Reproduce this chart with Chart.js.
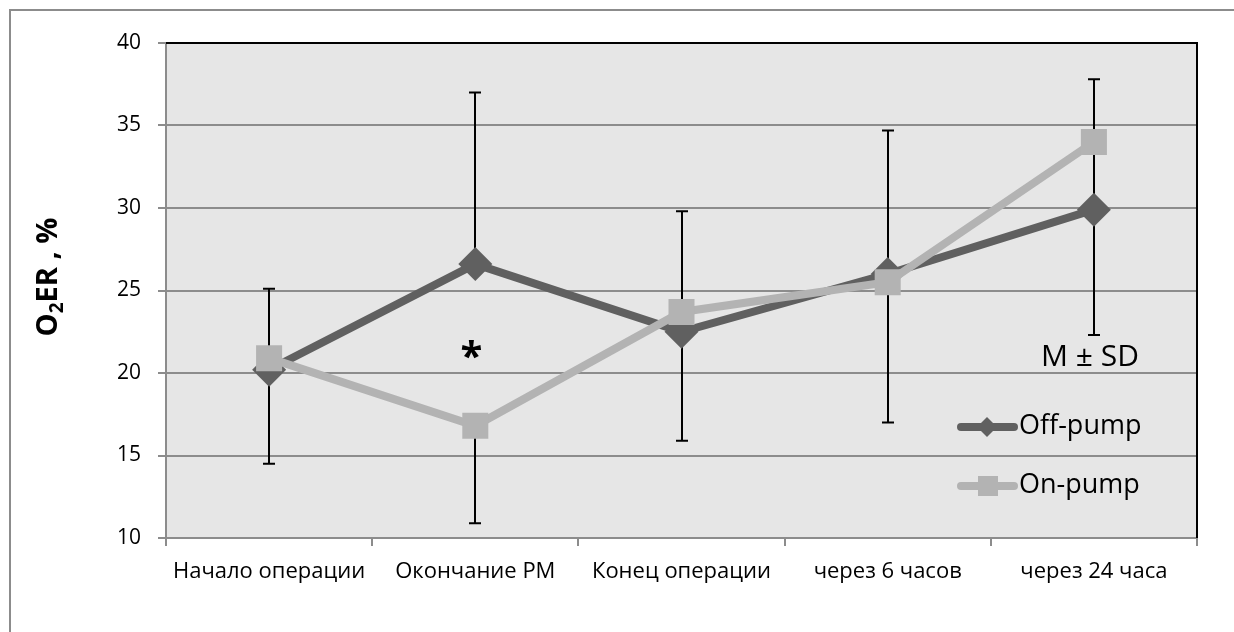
<!DOCTYPE html>
<html>
<head>
<meta charset="utf-8">
<script src="https://cdn.jsdelivr.net/npm/chart.js@4/dist/chart.umd.min.js"></script>
<style>
  html, body { margin: 0; padding: 0; background: #fff; }
  #wrap { width: 1234px; height: 632px; }
</style>
</head>
<body>
<div id="wrap"><canvas id="o2er" width="1234" height="632"></canvas></div>
<script>
// data
var categories = ['Начало операции', 'Окончание РМ', 'Конец операции', 'через 6 часов', 'через 24 часа'];
var offPump = [20.2, 26.6, 22.5, 26.0, 29.9];
var onPump = [20.9, 16.8, 23.7, 25.5, 34.0];
// off-pump has plus bars, on-pump minus bars
var errHigh = [25.1, 37.0, 29.8, 34.7, 37.8];
var errLow = [14.5, 10.9, 15.9, 17.0, 22.3];
var yTicks = [10, 15, 20, 25, 30, 35, 40];

var FONT = '"Open Sans", "DejaVu Sans", sans-serif';
var darkGrey = '#606060';
var lightGrey = '#b3b3b3';

var extras = {
  id: 'extras',
  beforeDraw: function(chart) {
    var ctx = chart.ctx;
    var a = chart.chartArea;
    ctx.save();
    // outer frame
    ctx.strokeStyle = '#8c8c8c';
    ctx.lineWidth = 2;
    ctx.strokeRect(10, 10, 1400, 800);
    // plot background
    ctx.fillStyle = '#e6e6e6';
    ctx.fillRect(a.left, a.top, a.right - a.left, a.bottom - a.top);
    ctx.restore();
  },
  beforeDatasetsDraw: function(chart) {
    var ctx = chart.ctx;
    var xs = chart.scales.x, ys = chart.scales.y;
    ctx.save();
    ctx.strokeStyle = '#000';
    ctx.lineWidth = 2;
    for (var i = 0; i < categories.length; i++) {
      var x = Math.round(xs.getPixelForValue(i));
      var y1 = ys.getPixelForValue(errHigh[i]);
      var y2 = ys.getPixelForValue(errLow[i]);
      var yOff = ys.getPixelForValue(offPump[i]);
      var yOn = ys.getPixelForValue(onPump[i]);
      ctx.beginPath();
      ctx.moveTo(x, yOff); ctx.lineTo(x, y1);
      ctx.moveTo(x, yOn); ctx.lineTo(x, y2);
      ctx.moveTo(x - 6, y1); ctx.lineTo(x + 6, y1);
      ctx.moveTo(x - 6, y2); ctx.lineTo(x + 6, y2);
      ctx.stroke();
    }
    ctx.restore();
  },
  afterDraw: function(chart) {
    var ctx = chart.ctx;
    var a = chart.chartArea;
    var xs = chart.scales.x, ys = chart.scales.y;
    ctx.save();

    // top and right edge of the plot
    ctx.strokeStyle = '#000';
    ctx.lineWidth = 2;
    ctx.beginPath();
    ctx.moveTo(a.left, a.top); ctx.lineTo(a.right, a.top); ctx.lineTo(a.right, a.bottom);
    ctx.stroke();

    // legend inside plot
    var items = [
      {label: 'Off-pump', color: darkGrey, y: 427, shape: 'diamond'},
      {label: 'On-pump', color: lightGrey, y: 486, shape: 'square'}
    ];
    items.forEach(function(it) {
      ctx.strokeStyle = it.color;
      ctx.fillStyle = it.color;
      ctx.lineWidth = 8;
      ctx.lineCap = 'round';
      ctx.beginPath();
      ctx.moveTo(961, it.y); ctx.lineTo(1014, it.y);
      ctx.stroke();
      ctx.beginPath();
      if (it.shape === 'diamond') {
        ctx.moveTo(987, it.y - 10); ctx.lineTo(997, it.y); ctx.lineTo(987, it.y + 10); ctx.lineTo(977, it.y);
        ctx.closePath();
      } else {
        ctx.rect(978, it.y - 10, 20, 20);
      }
      ctx.fill();
      ctx.fillStyle = '#000';
      ctx.font = '27px ' + FONT;
      ctx.textAlign = 'left';
      ctx.textBaseline = 'middle';
      ctx.fillText(it.label, 1019, it.y - 1);
    });

    // M ± SD
    ctx.fillStyle = '#000';
    ctx.font = '30px ' + FONT;
    ctx.textAlign = 'center';
    ctx.textBaseline = 'alphabetic';
    ctx.fillText('M ± SD', 1090, 366);

    // significance mark
    ctx.font = 'bold 40px ' + FONT;
    ctx.textAlign = 'center';
    ctx.fillText('*', xs.getPixelForValue(1) - 4, ys.getPixelForValue(20.2));

    // y axis title with subscript
    ctx.translate(47, 277);
    ctx.rotate(-Math.PI / 2);
    var big = 'bold 29px ' + FONT, small = 'bold 19px ' + FONT;
    ctx.font = big; var w1 = ctx.measureText('O').width;
    ctx.font = small; var w2 = ctx.measureText('2').width;
    ctx.font = big; var w3 = ctx.measureText('ER , %').width;
    var x0 = -(w1 + w2 + w3) / 2;
    ctx.textAlign = 'left';
    ctx.textBaseline = 'alphabetic';
    ctx.font = big; ctx.fillText('O', x0, 10);
    ctx.font = small; ctx.fillText('2', x0 + w1, 16);
    ctx.font = big; ctx.fillText('ER , %', x0 + w1 + w2, 10);
    ctx.restore();
  }
};

var chart = new Chart(document.getElementById('o2er'), {
  type: 'line',
  data: {
    labels: categories,
    datasets: [
      {
        label: 'Off-pump',
        data: offPump,
        borderColor: darkGrey,
        backgroundColor: darkGrey,
        borderWidth: 8,
        pointStyle: 'rectRot',
        pointRadius: 17,
        pointBorderWidth: 0,
        pointBackgroundColor: darkGrey,
        tension: 0,
        order: 1
      },
      {
        label: 'On-pump',
        data: onPump,
        borderColor: lightGrey,
        backgroundColor: lightGrey,
        borderWidth: 8,
        pointStyle: 'rect',
        pointRadius: 18.4,
        pointBorderWidth: 0,
        pointBackgroundColor: lightGrey,
        tension: 0,
        order: 0
      }
    ]
  },
  options: {
    responsive: false,
    animation: false,
    devicePixelRatio: 1,
    layout: { padding: { left: 0, top: 43, right: 37, bottom: 0 } },
    plugins: {
      legend: { display: false },
      tooltip: { enabled: false }
    },
    scales: {
      x: {
        offset: true,
        grid: {
          offset: true,
          drawOnChartArea: false,
          drawTicks: true,
          tickLength: 8,
          color: '#8c8c8c',
          lineWidth: 2
        },
        border: { color: '#8c8c8c', width: 2 },
        ticks: {
          color: '#000',
          font: { family: FONT, size: 22 },
          padding: 13,
          maxRotation: 0,
          autoSkip: false
        },
        afterFit: function(scale) { scale.height = 94; }
      },
      y: {
        min: 10,
        max: 40,
        afterBuildTicks: function(scale) {
          scale.ticks = yTicks.map(function(v) { return {value: v}; });
        },
        grid: {
          color: '#8c8c8c',
          lineWidth: 2,
          drawTicks: true,
          tickLength: 8
        },
        border: { color: '#8c8c8c', width: 2 },
        ticks: {
          color: '#000',
          font: { family: FONT, size: 21 },
          padding: 17
        },
        afterFit: function(scale) { scale.width = 166; }
      }
    }
  },
  plugins: [extras]
});
</script>
</body>
</html>
